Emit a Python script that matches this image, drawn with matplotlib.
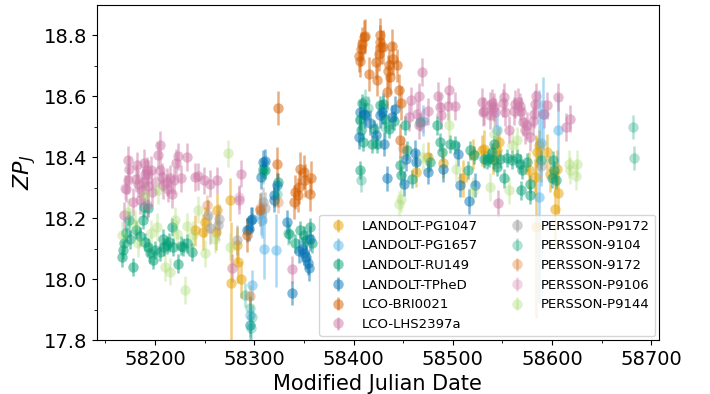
import matplotlib
matplotlib.use("Agg")
import matplotlib.pyplot as plt

# ---- data ----
pg1047_mjd = [58275.6, 58262.2, 58250.4, 58248.7, 58240.3, 58261.2, 58282.3, 58284.0, 58276.6, 58286.7,
              58463.1, 58529.3, 58531.0, 58546.0, 58544.4, 58576.3, 58583.0, 58584.7, 58586.4, 58594.8,
              58604.9, 58605.6, 58603.2, 58584.1, 58520.0, 58510.0, 58490.0, 58475.0, 58540.0, 58598.0]
pg1047_zp = [18.261, 18.228, 18.188, 18.155, 18.160, 18.155, 18.111, 18.057, 17.986, 17.999,
             18.351, 18.422, 18.428, 18.450, 18.424, 18.357, 18.335, 18.417, 18.439, 18.417,
             18.362, 18.283, 18.231, 18.171, 18.410, 18.330, 18.380, 18.400, 18.395, 18.345]
pg1047_err = [0.07, 0.05, 0.05, 0.06, 0.05, 0.06, 0.06, 0.07, 0.20, 0.06,
              0.05, 0.05, 0.06, 0.05, 0.06, 0.06, 0.06, 0.05, 0.05, 0.06,
              0.06, 0.07, 0.12, 0.30, 0.05, 0.06, 0.05, 0.05, 0.05, 0.06]

pg1657_mjd = [58297.5, 58306.8, 58310.2, 58322.0, 58295.1, 58307.6, 58296.0,
              58544.4, 58590.8, 58588.8, 58605.6, 58586.4, 58430.0, 58470.0]
pg1657_zp = [17.980, 18.214, 18.100, 18.094, 17.882, 18.194, 17.849,
             18.490, 18.542, 18.446, 18.488, 18.270, 18.560, 18.520]
pg1657_err = [0.05, 0.07, 0.10, 0.12, 0.06, 0.06, 0.06,
              0.06, 0.12, 0.14, 0.12, 0.35, 0.05, 0.05]

ru149_mjd = [58166.4, 58168.1, 58169.1, 58170.4, 58174.1, 58178.1, 58180.5, 58188.2, 58189.2, 58189.9,
             58193.3, 58194.9, 58198.3, 58205.0, 58208.4, 58209.4, 58211.7, 58216.8, 58218.5, 58223.5,
             58228.5, 58231.9, 58237.6, 58193.3, 58175.0, 58185.0, 58200.0, 58214.0, 58226.0,
             58310.9, 58308.6, 58323.4, 58334.4, 58341.2, 58346.2, 58349.6, 58352.3, 58356.3, 58358.0,
             58406.0, 58408.3, 58406.7, 58407.3, 58409.4, 58418.4, 58420.1, 58423.5, 58426.8, 58429.5,
             58431.9, 58435.2, 58440.3, 58452.0, 58447.0, 58447.7, 58453.7, 58458.7, 58467.1, 58476.5,
             58483.9, 58486.6, 58489.0, 58497.4, 58502.4, 58517.6, 58521.0, 58514.9, 58534.4, 58539.4,
             58544.4, 58530.9, 58536.0, 58541.0, 58541.0, 58547.8, 58551.1, 58554.5, 58559.5, 58564.6,
             58567.3, 58569.6, 58574.6, 58578.0, 58578.0, 58568.6, 58589.1, 58600.9, 58602.2, 58599.8,
             58604.2]
ru149_zp = [18.071, 18.095, 18.119, 18.150, 18.193, 18.040, 18.160, 18.193, 18.235, 18.122,
            18.106, 18.084, 18.062, 18.089, 18.133, 18.106, 18.111, 18.171, 18.106, 18.051,
            18.106, 18.117, 18.089, 18.233, 18.130, 18.140, 18.095, 18.120, 18.110,
            18.357, 18.362, 18.318, 18.149, 18.117, 18.160, 18.144, 18.128, 18.171, 18.117,
            18.357, 18.578, 18.521, 18.488, 18.450, 18.444, 18.493, 18.444, 18.570, 18.575,
            18.526, 18.493, 18.520, 18.504, 18.373, 18.340, 18.422, 18.329, 18.515, 18.384,
            18.504, 18.450, 18.417, 18.444, 18.439, 18.422, 18.406, 18.357, 18.390, 18.417,
            18.368, 18.395, 18.398, 18.442, 18.390, 18.395, 18.330, 18.398, 18.392, 18.398,
            18.379, 18.357, 18.384, 18.313, 18.275, 18.291, 18.392, 18.390, 18.357, 18.330,
            18.324]
ru149_err = 0.03

tphed_mjd = [58309.2, 58310.9, 58306.8, 58296.8, 58294.8, 58292.4, 58320.0, 58322.6, 58332.7, 58337.7,
             58297.5, 58344.5, 58347.9, 58352.3, 58353.6, 58354.6, 58356.3, 58350.2, 58319.3,
             58406.7, 58410.0, 58411.7, 58405.0, 58416.7, 58422.8, 58426.2, 58428.5, 58430.9, 58433.5,
             58438.6, 58442.0, 58450.3, 58453.0, 58462.1, 58463.1, 58474.5, 58490.0, 58504.8, 58507.5,
             58515.9, 58521.9]
tphed_zp = [18.384, 18.388, 18.336, 18.195, 18.165, 18.160, 18.275, 18.308, 18.188, 17.955,
            18.198, 18.092, 18.097, 18.073, 18.053, 18.035, 18.133, 18.086, 18.261,
            18.548, 18.542, 18.537, 18.466, 18.513, 18.471, 18.537, 18.548, 18.444, 18.330,
            18.532, 18.559, 18.313, 18.395, 18.415, 18.384, 18.351, 18.360, 18.411, 18.308,
            18.255, 18.308]
tphed_err = 0.04

bri_mjd = [58323.7, 58322.7, 58339.5, 58341.2, 58343.5, 58344.5, 58346.2, 58349.6, 58351.2, 58357.0,
           58355.6, 58292.4, 58305.9,
           58405.0, 58407.3, 58408.3, 58410.0, 58411.7, 58406.7, 58415.1, 58422.8, 58425.1, 58426.2,
           58426.8, 58427.5, 58429.5, 58424.0, 58433.5, 58434.2, 58435.2, 58436.2, 58438.6, 58439.6,
           58443.6, 58445.3, 58447.7, 58447.0]
bri_zp = [18.562, 18.379, 18.253, 18.286, 18.275, 18.302, 18.362, 18.351, 18.324, 18.333,
          18.278, 18.144, 18.228,
          18.733, 18.755, 18.772, 18.794, 18.797, 18.717, 18.673, 18.712, 18.739, 18.801,
          18.779, 18.761, 18.761, 18.654, 18.613, 18.681, 18.701, 18.663, 18.764, 18.723,
          18.701, 18.619, 18.578, 18.455]
bri_err = 0.055

lhs_mjd = [58173.1, 58174.1, 58172.4, 58170.4, 58168.7, 58181.5, 58180.5, 58182.5, 58188.9, 58189.9,
           58188.2, 58191.6, 58193.3, 58196.0, 58196.6, 58192.6, 58186.5, 58178.1, 58184.9, 58191.6,
           58202.7, 58205.0, 58205.0, 58206.7, 58207.7, 58211.7, 58213.4, 58215.1, 58216.8, 58219.1,
           58221.2, 58223.5, 58226.2, 58231.9, 58240.3, 58243.7, 58249.7, 58255.4, 58262.2, 58286.3,
           58285.0, 58277.3, 58337.8,
           58468.8, 58458.1, 58466.1, 58463.8, 58474.5, 58466.1, 58484.6, 58486.6, 58488.3, 58495.7,
           58494.7, 58502.4, 58455.4, 58529.3, 58530.3, 58537.0, 58539.4, 58542.7, 58537.7, 58545.1,
           58531.0, 58541.0, 58550.4, 58551.8, 58552.8, 58561.2, 58562.9, 58565.6, 58567.3, 58568.6,
           58570.6, 58573.0, 58574.6, 58578.0, 58580.7, 58582.0, 58584.1, 58583.0, 58594.8, 58605.9,
           58614.3, 58617.7, 58556.8, 58591.4]
lhs_zp = [18.390, 18.360, 18.324, 18.297, 18.209, 18.373, 18.329, 18.313, 18.381, 18.346,
          18.319, 18.357, 18.346, 18.359, 18.286, 18.304, 18.291, 18.253, 18.259, 18.242,
          18.406, 18.441, 18.357, 18.335, 18.308, 18.319, 18.297, 18.330, 18.278, 18.324,
          18.382, 18.403, 18.330, 18.401, 18.335, 18.337, 18.324, 18.313, 18.324, 18.346,
          18.259, 18.036, 18.032,
          18.679, 18.586, 18.599, 18.542, 18.550, 18.504, 18.602, 18.564, 18.537, 18.619,
          18.568, 18.568, 18.532, 18.581, 18.548, 18.570, 18.579, 18.548, 18.537, 18.248,
          18.551, 18.564, 18.577, 18.597, 18.548, 18.551, 18.575, 18.581, 18.567, 18.551,
          18.515, 18.488, 18.504, 18.466, 18.518, 18.542, 18.599, 18.575, 18.570, 18.597,
          18.499, 18.526, 18.490, 18.542]
lhs_err = 0.045

pp9172_mjd = [58253.7, 58264.5, 58255.4, 58263.8, 58282.3, 58309.2, 58310.9, 58589.1]
pp9172_zp = [18.209, 18.196, 18.166, 18.177, 18.128, 18.253, 18.234, 18.370]
pp9172_err = 0.05

p9104_mjd = [58309.2, 58322.6, 58290.7, 58295.1, 58297.5, 58295.8, 58296.5, 58333.7, 58407.3,
             58411.7, 58406.0, 58681.5, 58682.2, 58414.0, 58432.0]
p9104_zp = [18.351, 18.280, 17.948, 17.904, 17.875, 17.849, 17.839, 18.152, 18.324,
            18.583, 18.526, 18.499, 18.398, 18.560, 18.500]
p9104_err = 0.04

p9172_mjd = [58252.1, 58323.7, 58305.8, 58295.8, 58450.0]
p9172_zp = [18.242, 18.253, 18.232, 17.944, 18.430]
p9172_err = 0.035

p9106_mjd = [58170.0, 58200.0, 58285.0, 58470.0, 58540.0]
p9106_zp = [18.300, 18.320, 18.270, 18.520, 18.560]
p9106_err = 0.04

p9144_mjd = [58273.2, 58166.4, 58173.1, 58183.2, 58189.9, 58201.7, 58203.3, 58210.0, 58220.2, 58221.9,
             58230.2, 58231.9, 58243.7, 58250.4, 58275.6, 58238.6, 58215.1, 58180.0, 58196.0, 58260.0,
             58447.7, 58495.7, 58503.4, 58537.7, 58541.8, 58556.2, 58564.6, 58616.7, 58618.3, 58625.0,
             58624.4, 58470.0, 58520.0, 58560.0, 58446.0]
p9144_zp = [18.412, 18.144, 18.220, 18.117, 18.275, 18.171, 18.291, 18.040, 18.193, 18.149,
            17.964, 18.173, 18.228, 18.084, 18.106, 18.144, 18.024, 18.180, 18.150, 18.130,
            18.264, 18.504, 18.362, 18.302, 18.477, 18.291, 18.455, 18.377, 18.357, 18.379,
            18.337, 18.400, 18.290, 18.440, 18.245]
p9144_err = 0.045

series = [
    ("LANDOLT-PG1047", pg1047_mjd, pg1047_zp, pg1047_err, "#E69F00", 0.5),
    ("LANDOLT-PG1657", pg1657_mjd, pg1657_zp, pg1657_err, "#56B4E9", 0.5),
    ("LANDOLT-RU149", ru149_mjd, ru149_zp, ru149_err, "#009E73", 0.5),
    ("LANDOLT-TPheD", tphed_mjd, tphed_zp, tphed_err, "#0072B2", 0.5),
    ("LCO-BRI0021", bri_mjd, bri_zp, bri_err, "#D55E00", 0.5),
    ("LCO-LHS2397a", lhs_mjd, lhs_zp, lhs_err, "#CC79A7", 0.5),
    ("PERSSON-P9172", pp9172_mjd, pp9172_zp, pp9172_err, "#999999", 0.45),
    ("PERSSON-9104", p9104_mjd, p9104_zp, p9104_err, "#009E73", 0.3),
    ("PERSSON-9172", p9172_mjd, p9172_zp, p9172_err, "#D55E00", 0.3),
    ("PERSSON-P9106", p9106_mjd, p9106_zp, p9106_err, "#CC79A7", 0.3),
    ("PERSSON-P9144", p9144_mjd, p9144_zp, p9144_err, "#A6D96A", 0.35),
]

fig = plt.figure(figsize=(7.1, 3.94), dpi=100)
ax = fig.add_axes([0.136, 0.137, 0.7926, 0.851])

for name, x, y, e, c, a in series:
    ax.errorbar(x, y, yerr=e, fmt="o", color=c, alpha=a, ms=7.5, elinewidth=1.8,
                capsize=0, mew=0, label=name)

ax.set_xlim(58141, 58708)
ax.set_ylim(17.8, 18.9)
ax.set_xticks([58200, 58300, 58400, 58500, 58600, 58700])
ax.set_xticks([58150, 58250, 58350, 58450, 58550, 58650], minor=True)
ax.set_yticks([17.8, 18.0, 18.2, 18.4, 18.6, 18.8])
ax.set_yticks([17.9, 18.1, 18.3, 18.5, 18.7], minor=True)
ax.tick_params(axis="both", which="major", labelsize=14)
ax.set_xlabel("Modified Julian Date", fontsize=15)
ax.set_ylabel("$ZP_J$", fontsize=16)

ax.legend(loc="lower right", ncol=2, fontsize=9.5, borderaxespad=0.3)

fig.savefig("out.png", dpi=100)
